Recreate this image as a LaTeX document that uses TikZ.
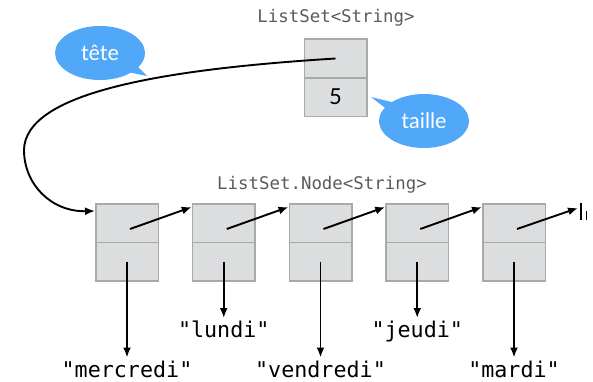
\documentclass[tikz,border=0pt]{standalone}
\usepackage{fontspec}
\usetikzlibrary{positioning,arrows.meta,shapes.callouts}
\newfontfamily\codefont{DejaVu Sans Mono}
\newfontfamily\bubblefont{Lato}
\definecolor{cellfill}{RGB}{220,221,223}
\definecolor{cellline}{RGB}{168,170,168}
\definecolor{bubblue}{RGB}{81,168,249}
\definecolor{titlegray}{RGB}{90,90,90}
\begin{document}
\begin{tikzpicture}[x=1pt, y=1pt, node distance=96.75pt,
    cell/.style = {draw=cellline, fill=cellfill, line width=1.5pt, minimum width=62.5pt, minimum height=38.5pt, inner sep=0pt},
    ptr/.style = {line width=1.9pt, -{Latex[length=10pt,width=8pt]}},
    word/.style = {font=\codefont\fontsize{21.7}{24}\selectfont, inner sep=3pt},
    title/.style = {font=\codefont\fontsize{17.4}{20}\selectfont, text=titlegray},
    bubble/.style = {ellipse callout, fill=bubblue, text=white, font=\bubblefont\fontsize{21.5}{24}\selectfont, minimum width=90pt, minimum height=54pt, inner sep=0pt}]
			\useasboundingbox (0,0) rectangle (593,381);
			\node[bubble, callout absolute pointer={(147,305)}] (tete) at (100,328) {tête};
			\node[bubble, callout absolute pointer={(371,284)}] (taille) at (424,260) {taille};
			\node[title] (settitle) at (336,363) {ListSet<String>};
			\node[cell] (head) at (335.5,322.5) {};
			\node[cell] (size) [below of=head, node distance=38.5pt] {\bubblefont\fontsize{22}{24}\selectfont 5};
			\node[title] (nodetitle) at (322,196) {ListSet.Node<String>};
			\node[cell] (c1) at (127,158) {};
			\node[cell] (c2) [right of=c1] {};
			\node[cell] (c3) [right of=c2] {};
			\node[cell] (c4) [right of=c3] {};
			\node[cell] (c5) [right of=c4] {};
			\node[cell] (v1) [below of=c1, node distance=38.5pt] {};
			\node[cell] (v2) [below of=c2, node distance=38.5pt] {};
			\node[cell] (v3) [below of=c3, node distance=38.5pt] {};
			\node[cell] (v4) [below of=c4, node distance=38.5pt] {};
			\node[cell] (v5) [below of=c5, node distance=38.5pt] {};
			\node[word] (s1) [below=76pt of v1] {"mercredi"};
			\node[word] (s2) [below=36.5pt of v2] {"lundi"};
			\node[word] (s3) [below=76pt of v3] {"vendredi"};
			\node[word] (s4) [below=36.5pt of v4] {"jeudi"};
			\node[word] (s5) [below=76pt of v5] {"mardi"};
			\coordinate (nil) at (578,173);
			\draw[ptr] (head.center) .. controls (150,311) and (25,286) .. (24,231)
			  .. controls (24,197) and (51,169) .. ([yshift=-8pt]c1.north west);
			\path[ptr]
			([shift={(3pt,-6pt)}]c1.center) edge ([yshift=-4pt]c2.north west)
			([shift={(3pt,-6pt)}]c2.center) edge ([yshift=-4pt]c3.north west)
			([shift={(3pt,-6pt)}]c3.center) edge ([yshift=-4pt]c4.north west)
			([shift={(3pt,-6pt)}]c4.center) edge ([yshift=-4pt]c5.north west)
			([shift={(3pt,-6pt)}]c5.center) edge (nil)
			(v1.center) edge (s1) (v2.center) edge (s2)
			(v3.center) edge (s3) (v4.center) edge (s4)
			(v5.center) edge (s5);
			\draw[line width=2.2pt] ([shift={(3pt,5pt)}]nil) -- ([shift={(3pt,-12pt)}]nil);
			\draw[line width=1pt] ([shift={(8pt,-3pt)}]nil) -- ([shift={(8pt,-12pt)}]nil);
		\end{tikzpicture}
\end{document}
